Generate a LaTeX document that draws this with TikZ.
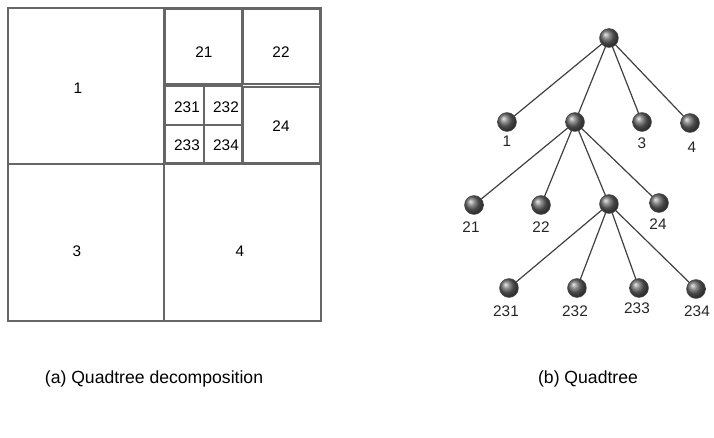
\documentclass[tikz,border=0pt]{standalone}
\usepackage{fontspec}
\setmainfont{Liberation Sans}
\usetikzlibrary{backgrounds}
\begin{document}
\begin{tikzpicture}[x=0.75pt,y=-0.75pt,
  cell/.style={draw=black!60,line width=1.2pt},
  lbl/.style={font=\fontsize{11.5}{13}\selectfont,inner sep=0pt},
  ball/.style={circle,minimum size=14.2pt,inner sep=0pt,ball color=black!60,shading=ball,draw=black!70,line width=0.4pt},
  tl/.style={font=\fontsize{11.5}{13}\selectfont,inner sep=0pt,text=black!85},
  edge/.style={draw=black!75,line width=0.9pt},
  captxt/.style={font=\fontsize{13.2}{15}\selectfont,inner sep=0pt}]
\useasboundingbox (0,0) rectangle (714,438);
% quadtree decomposition
\draw[cell] (8,8) rectangle (321,321);
\draw[cell] (164,8) -- (164,321);
\draw[cell] (8,164) -- (321,164);
\draw[cell] (165,9) rectangle (242,84);
\draw[cell] (243,9) rectangle (320,84);
\draw[cell] (165,86) rectangle (242,163);
\draw[cell] (243,87) rectangle (320,163);
\draw[cell] (204,86) -- (204,163);
\draw[cell] (165,125) -- (242,125);
\node[lbl] (q1) at (78,88) {1};
\node[lbl] (q3) at (77,251) {3};
\node[lbl] (q4) at (240,251) {4};
\node[lbl] (q21) at (204,52) {21};
\node[lbl] (q22) at (281,52) {22};
\node[lbl] (q24) at (281,126) {24};
\node[lbl] (q231) at (187,107) {231};
\node[lbl] (q232) at (226,107) {232};
\node[lbl] (q233) at (187,145) {233};
\node[lbl] (q234) at (226,145) {234};
% tree
\node[ball] (r) at (609,38) {};
\node[ball] (n1) at (507,122) {};
\node[ball] (n2) at (575,122) {};
\node[ball] (n3) at (642,122) {};
\node[ball] (n4) at (690,123) {};
\node[ball] (n21) at (474,205) {};
\node[ball] (n22) at (541,205) {};
\node[ball] (n23) at (609,204) {};
\node[ball] (n24) at (659,203) {};
\node[ball] (n231) at (509,288) {};
\node[ball] (n232) at (577,288) {};
\node[ball] (n233) at (639,288) {};
\node[ball] (n234) at (696,289) {};
\begin{pgfonlayer}{background}
\foreach \a/\b in {r/n1,r/n2,r/n3,r/n4,n2/n21,n2/n22,n2/n23,n2/n24,n23/n231,n23/n232,n23/n233,n23/n234}
  \draw[edge] (\a.center) -- (\b.center);
\end{pgfonlayer}
\node[tl] (t1) at (507,141) {1};
\node[tl] (t3) at (642,143) {3};
\node[tl] (t4) at (692,147) {4};
\node[tl] (t21) at (471,227) {21};
\node[tl] (t22) at (541,227) {22};
\node[tl] (t24) at (658,224) {24};
\node[tl] (t231) at (506,311) {231};
\node[tl] (t232) at (575,311) {232};
\node[tl] (t233) at (637,308) {233};
\node[tl] (t234) at (697,311) {234};
% captions
\node[captxt] (ca) at (154,379) {(a) Quadtree decomposition};
\node[captxt] (cb) at (588,379) {(b) Quadtree};
\end{tikzpicture}
\end{document}
